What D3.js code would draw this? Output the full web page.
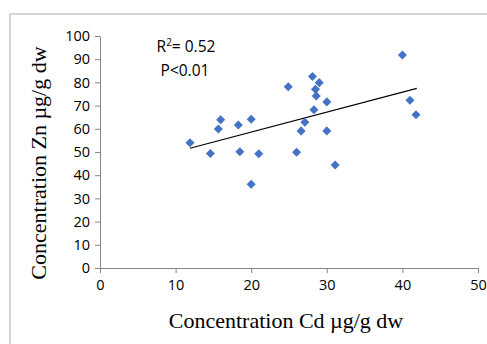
<!DOCTYPE html>
<html><head><meta charset="utf-8">
<script src="https://cdn.jsdelivr.net/npm/d3@7"></script>
<style>body{margin:0;background:#fff;}svg{display:block;}</style>
</head><body>
<script>
const cdValues = [11.9,15.96,15.65,18.3,20.0,24.9,14.6,18.5,21.0,20.0,28.1,29.0,28.5,28.6,30.0,28.3,27.1,26.6,30.0,26.0,40.0,41.0,41.8,31.1];
const znValues = [54.0,63.9,59.9,61.6,64.1,78.1,49.4,50.1,49.2,36.1,82.5,79.9,77.0,74.1,71.6,68.2,62.8,59.1,59.1,49.9,91.8,72.3,66.1,44.4];
const xTicks = [0,10,20,30,40,50];
const yTicks = [0,10,20,30,40,50,60,70,80,90,100];
const trendX = [11.9, 41.9];
const trendSlope = 0.86;
const trendIntercept = 41.4;
const annotation = ["R", "2", "= 0.52", "P<0.01"];

const W = 487, H = 344;
const svg = d3.select("body").append("svg").attr("width", W).attr("height", H);
svg.append("rect").attr("x",10).attr("y",14).attr("width",490).attr("height",350)
  .attr("fill","#fff").attr("stroke","#c8c8c8").attr("stroke-width",1.5);

const x = d3.scaleLinear().domain([0,50]).range([100,478]);
const y = d3.scaleLinear().domain([0,100]).range([268,36]);
const axisCol = "#868686";
const tickFont = "'Open Sans', Calibri, sans-serif";

const gx = svg.append("g").attr("transform","translate(0,268)")
  .call(d3.axisBottom(x).tickValues(xTicks).tickSize(5).tickSizeOuter(0).tickPadding(4));
const gy = svg.append("g").attr("transform","translate(100,0)")
  .call(d3.axisLeft(y).tickValues(yTicks).tickSize(5).tickSizeOuter(0).tickPadding(5));
[gx,gy].forEach(g=>{
  g.selectAll("path,line").attr("stroke",axisCol).attr("stroke-width",1);
  g.selectAll("text").attr("fill","#000").style("font-family",tickFont).style("font-size","14.5px");
});
gx.selectAll("text").attr("dy","0.9em");

svg.append("line")
  .attr("x1", x(trendX[0])).attr("y1", y(trendIntercept + trendSlope*trendX[0]))
  .attr("x2", x(trendX[1])).attr("y2", y(trendIntercept + trendSlope*trendX[1]))
  .attr("stroke","#000").attr("stroke-width",1.2);

const diamond = d3.symbol().type(d3.symbolDiamond2).size(52);
svg.append("g").selectAll("path").data(cdValues.map((c,i)=>[c,znValues[i]])).join("path")
  .attr("d", diamond)
  .attr("transform", d=>`translate(${x(d[0])},${y(d[1])})`)
  .attr("fill","#4472C4");

const t1 = svg.append("text").attr("x",186).attr("y",52).attr("text-anchor","middle")
  .style("font-family",tickFont).style("font-size","15.5px");
t1.append("tspan").text(annotation[0]);
t1.append("tspan").attr("dy",-6).style("font-size","10px").text(annotation[1]);
t1.append("tspan").attr("dy",6).text(annotation[2]);
svg.append("text").attr("x",185).attr("y",76).attr("text-anchor","middle")
  .style("font-family",tickFont).style("font-size","15.5px").text(annotation[3]);

svg.append("text").attr("x",286).attr("y",328).attr("text-anchor","middle")
  .style("font-family","'Liberation Serif','Times New Roman',serif").style("font-size","22px")
  .text("Concentration Cd µg/g dw");
svg.append("text").attr("transform","translate(46,163) rotate(-90)").attr("text-anchor","middle")
  .style("font-family","'Liberation Serif','Times New Roman',serif").style("font-size","22px")
  .text("Concentration Zn µg/g dw");
</script>
</body></html>
